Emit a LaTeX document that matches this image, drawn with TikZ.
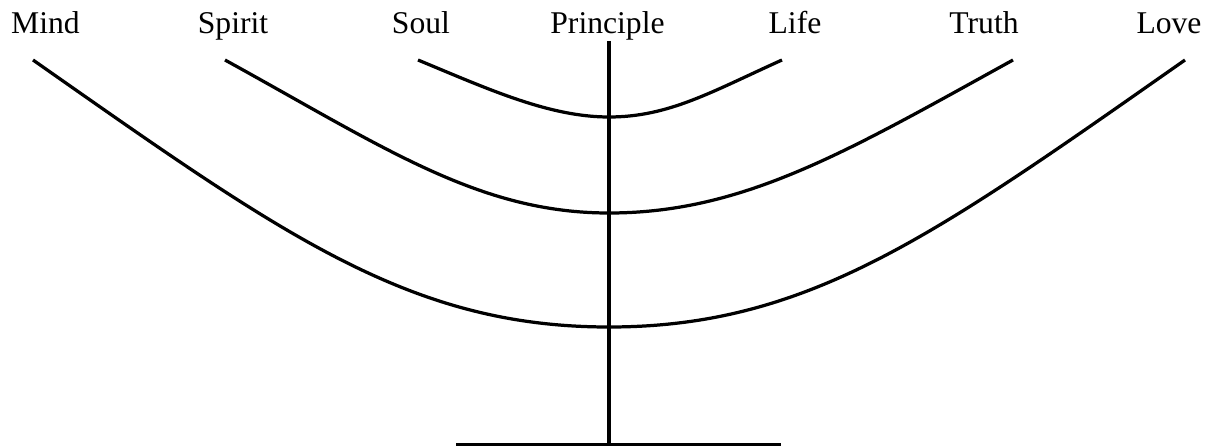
\documentclass[tikz,border=0pt]{standalone}
\usepackage{fontspec}
\setmainfont{Liberation Serif}

\begin{document}
\begin{tikzpicture}[
  x=0.025cm, y=-0.025cm,
  word/.style={anchor=base, inner sep=0pt, font=\fontsize{22.5}{27}\selectfont},
  arm/.style={line width=2.3pt},
]
\useasboundingbox (0,0) rectangle (1215,446);

% ===== labels =====
\node[word] (mind)      at (45.5,34)  {Mind};
\node[word] (spirit)    at (233,34)   {Spirit};
\node[word] (soul)      at (421,34)   {Soul};
\node[word] (principle) at (607.5,34) {Principle};
\node[word] (life)      at (795,34)   {Life};
\node[word] (truth)     at (984,34)   {Truth};
\node[word] (love)      at (1169,34)  {Love};

% ===== arm ends and joints =====
\coordinate (mindTip)   at (33,60);
\coordinate (spiritTip) at (225,60);
\coordinate (soulTip)   at (418,60);
\coordinate (lifeTip)   at (782,60);
\coordinate (truthTip)  at (1013,60);
\coordinate (loveTip)   at (1185,60);
\coordinate (inner)  at (609,117);
\coordinate (middle) at (609,213);
\coordinate (outer)  at (609,327);
\coordinate (stemTop)  at (609,41);
\coordinate (stemFoot) at (609,444.5);
\coordinate (footL) at (456,444.5);
\coordinate (footR) at (781,444.5);

% ===== stem and foot =====
\draw[arm] (stemTop) -- (stemFoot);
\draw[arm] (footL) -- (footR);

% ===== arms =====
\draw[arm] (soulTip) .. controls +(70,29) and +(-60,0) .. (inner)
  .. controls +(60,0) and +(-70,31.5) .. (lifeTip);
\draw[arm] (spiritTip) .. controls +(160,88) and +(-130,0) .. (middle)
  .. controls +(135,0) and +(-165,91) .. (truthTip);
\draw[arm] (mindTip) .. controls +(250,175) and +(-200,0) .. (outer)
  .. controls +(200,0) and +(-250,175) .. (loveTip);

\end{tikzpicture}
\end{document}
